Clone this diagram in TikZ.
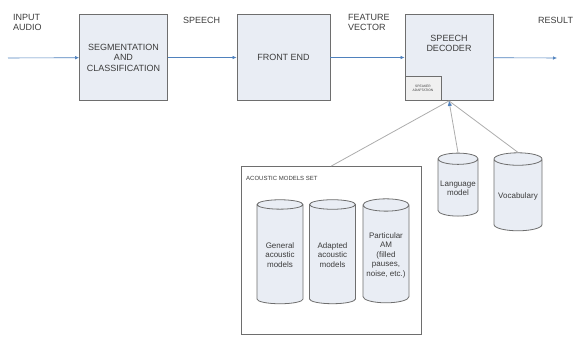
\documentclass[tikz,border=0pt]{standalone}
\usepackage{fontspec}
\setmainfont{Liberation Sans}
\usetikzlibrary{arrows.meta, positioning, shapes.geometric}

\definecolor{boxfill}{RGB}{233,237,244}
\definecolor{edgegray}{RGB}{110,110,110}
\definecolor{flowblue}{RGB}{79,129,189}
\definecolor{textgray}{RGB}{60,60,60}

\tikzset{
  block/.style={draw=edgegray, thick, fill=boxfill, text=textgray,
    minimum width=88pt, minimum height=86pt, align=center, inner sep=1pt},
  flow/.style={-{Latex[length=4pt,width=3.5pt]}, flowblue, semithick},
  link/.style={gray!65, thick},
  label/.style={text=textgray, align=left, font=\fontsize{9}{10}\selectfont, inner sep=0pt},
  store/.style={cylinder, shape border rotate=90, aspect=0.3, draw=edgegray, thick,
    fill=boxfill, text=textgray, align=center, inner sep=1pt,
    font=\fontsize{8}{9.5}\selectfont}
}

\begin{document}
\begin{tikzpicture}[x=1pt, y=-1pt, font=\fontsize{9}{10.5}\selectfont]
  \useasboundingbox (0,0) rectangle (574,337);

  % main chain
  \node[block] (seg) at (123.5,57.5) {SEGMENTATION\\AND\\CLASSIFICATION};
  \node[block, minimum width=93pt] (front) at (283.5,57.5) {FRONT END};
  \node[block] (dec) at (449,57.5) {SPEECH\\DECODER\\[18pt]};
  \node[draw=edgegray, thick, fill=gray!12, minimum width=36pt, minimum height=24pt,
    align=center, inner sep=0pt, font=\fontsize{3.3}{4}\selectfont, text=textgray,
    anchor=south west] (adapt) at (dec.south west) {SPEAKER\\ADAPTATION};

  \coordinate (in) at (8,58);
  \coordinate (out) at (557,58);
  \draw[flow] (in) -- (seg);
  \draw[flow] (seg) -- (front);
  \draw[flow] (front) -- (dec);
  \draw[flow] (dec) -- (out);

  % signal labels
  \node[label, anchor=north west] (lin) at (13,14) {INPUT\\AUDIO};
  \node[label, anchor=north west] (lsp) at (183,17) {SPEECH};
  \node[label, anchor=north west] (lfv) at (348,14) {FEATURE\\VECTOR};
  \node[label, anchor=north west] (lres) at (538,17) {RESULT};

  % acoustic models
  \node[draw=edgegray, thick, fill=white, minimum width=180pt, minimum height=168pt,
    anchor=north west] (am) at (241,166) {};
  \node[label, anchor=north west, font=\fontsize{6}{7}\selectfont] (amt) at (246,176)
    {ACOUSTIC MODELS SET};
  \node[store, minimum width=46pt, minimum height=104pt] (gen) at (280,255)
    {General\\acoustic\\models};
  \node[store, minimum width=46pt, minimum height=104pt] (adp) at (332.5,255)
    {Adapted\\acoustic\\models};
  \node[store, minimum width=46pt, minimum height=104pt] (part) at (386,255)
    {Particular\\AM\\(filled\\pauses,\\noise, etc.)};

  % knowledge sources
  \node[store, minimum width=40pt, minimum height=63pt] (lm) at (458,188.5)
    {Language\\model};
  \node[store, minimum width=48pt, minimum height=78pt] (voc) at (518,196)
    {Vocabulary};

  \draw[link] (am.north) -- (dec.south);
  \draw[link] (voc.north) -- (dec.south);
  \draw[link, -{Latex[length=5pt,width=4.5pt,color=flowblue,fill=flowblue]}] (lm.north) -- (dec.south);
\end{tikzpicture}
\end{document}
